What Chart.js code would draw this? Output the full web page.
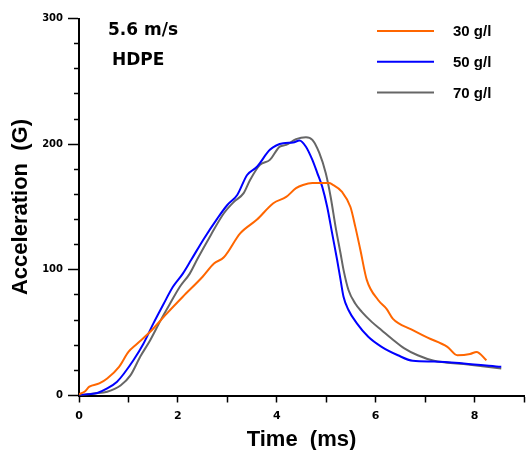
<!DOCTYPE html>
<html>
<head>
<meta charset="utf-8">
<script src="https://cdn.jsdelivr.net/npm/chart.js@4"></script>
<style>
  body { margin: 0; background: #fff; }
</style>
</head>
<body>
<canvas id="myChart" width="531" height="450"></canvas>
<script>
// Series labels and colours
const seriesLabels = ['30 g/l', '50 g/l', '70 g/l'];
const seriesColors = ['#ff6600', '#0000ff', '#666666'];

// 30 g/l curve (time in ms, acceleration in G)
const time30 = [0, 0.11, 0.21, 0.41, 0.57, 0.81, 1.0, 1.17, 1.44, 1.77, 2.1, 2.5, 2.73, 2.93, 3.26, 3.6, 3.93, 4.19, 4.39, 4.53, 4.72, 5.06, 5.12, 5.32, 5.49, 5.59, 5.69, 5.82, 6.05, 6.22, 6.35, 6.72, 7.05, 7.45, 7.65, 7.91, 8.04, 8.24];
const accel30 = [1, 3, 7, 9.6, 13.5, 22.8, 34.7, 41, 50.7, 65, 78.6, 94.5, 105, 110, 129, 140, 153, 158, 165, 167.5, 169, 169, 168, 162, 150, 134, 116, 92, 76, 69, 61, 52.6, 46, 38.7, 32, 33, 34.7, 28];

// 50 g/l curve
const time50 = [0, 0.18, 0.37, 0.57, 0.77, 0.91, 1.1, 1.3, 1.5, 1.7, 1.9, 2.1, 2.27, 2.53, 2.8, 3.0, 3.2, 3.4, 3.6, 3.86, 4.13, 4.33, 4.46, 4.59, 4.72, 4.82, 4.92, 5.02, 5.12, 5.22, 5.29, 5.35, 5.45, 5.62, 5.85, 6.12, 6.45, 6.75, 7.18, 7.78, 8.54];
const accel50 = [0, 1, 2, 5.6, 11, 17.5, 28, 41, 57, 72, 86.5, 97, 108, 125, 141, 151.6, 159.6, 175.5, 182, 195.5, 200.8, 201.3, 203, 198, 187.5, 177, 166, 150, 129, 108, 92, 78.6, 68, 57.4, 46.7, 38.7, 32, 27.6, 27, 25.5, 22.8];

// 70 g/l curve
const time70 = [0, 0.31, 0.57, 0.84, 1.04, 1.24, 1.44, 1.64, 1.84, 2.04, 2.24, 2.4, 2.67, 2.93, 3.13, 3.33, 3.46, 3.66, 3.86, 4.06, 4.19, 4.39, 4.59, 4.72, 4.86, 4.99, 5.09, 5.19, 5.29, 5.35, 5.45, 5.59, 5.72, 5.92, 6.12, 6.32, 6.58, 6.85, 7.18, 7.78, 8.54];
const accel70 = [0, 1.6, 3, 8, 16, 31, 44, 59, 73, 86.5, 97, 109, 128, 145, 154, 161, 171.5, 183.5, 187.5, 198, 199.4, 204, 205.6, 203.4, 193, 177, 158, 134, 113, 100, 84, 73, 66.6, 58.6, 52, 45.4, 37.5, 32, 27.6, 25, 21.5];

// Axis ticks
const xLabelTicks = [0, 2, 4, 6, 8];
const yLabelTicks = [0, 100, 200, 300];

// Text on the plot
const speedText = '5.6 m/s';
const materialText = 'HDPE';

function toPoints(xs, ys) {
  return xs.map((x, i) => ({ x: x, y: ys[i] }));
}

const allTimes = [time30, time50, time70];
const allAccels = [accel30, accel50, accel70];

const datasets = seriesLabels.map((label, i) => ({
  label: label,
  data: toPoints(allTimes[i], allAccels[i]),
  borderColor: seriesColors[i],
  borderWidth: 2,
  pointRadius: 0,
  fill: false,
  cubicInterpolationMode: 'monotone'
}));

// draws the two notes and the legend inside the plot
const notesPlugin = {
  id: 'notes',
  afterDraw(chart) {
    const c = chart.ctx;
    c.save();
    c.fillStyle = '#000';
    c.textBaseline = 'alphabetic';
    c.font = 'bold 17px "DejaVu Sans"';
    c.fillText(speedText, 108, 35);
    c.fillText(materialText, 112, 65);

    c.font = 'bold 15px "Liberation Sans", Arial';
    seriesLabels.forEach((label, i) => {
      const y = 31 + i * 30.8;
      c.strokeStyle = seriesColors[i];
      c.lineWidth = 2;
      c.beginPath();
      c.moveTo(377, y);
      c.lineTo(434, y);
      c.stroke();
      c.fillText(label, 453, y + 5.2);
    });
    c.restore();
  }
};

const titleFont = { family: '"Liberation Sans", Arial', weight: 'bold', size: 22 };

const myChart = document.getElementById('myChart');

const accelChart = new Chart(myChart, {
  type: 'line',
  data: { datasets: datasets },
  options: {
    responsive: false,
    animation: false,
    layout: { padding: { top: 18.5, right: 0, bottom: 0, left: 0 } },
    plugins: {
      legend: { display: false },
      tooltip: { enabled: false }
    },
    scales: {
      x: {
        type: 'linear',
        min: 0,
        max: 9,
        border: { color: '#000', width: 2 },
        grid: { drawOnChartArea: false, drawTicks: true, tickLength: 7, tickColor: '#000', tickWidth: 1.5 },
        ticks: {
          stepSize: 1,
          autoSkip: false,
          maxRotation: 0,
          color: '#000',
          font: { family: 'DejaVu Sans', weight: 'bold', size: 11 },
          padding: 7,
          callback: v => xLabelTicks.includes(v) ? String(v) : ''
        },
        title: {
          display: true,
          text: 'Time  (ms)',
          color: '#000',
          font: { ...titleFont, lineHeight: 0.9 },
          padding: 0
        },
        afterFit: s => { s.height = 450 - 395.5; }
      },
      y: {
        min: 0,
        max: 300,
        border: { color: '#000', width: 2 },
        grid: {
          drawOnChartArea: false,
          drawTicks: true,
          tickLength: 11,
          tickColor: '#000',
          tickWidth: 1.5,
          tickBorderDash: ctx => yLabelTicks.includes(ctx.tick.value) ? [] : [4, 100],
          tickBorderDashOffset: ctx => yLabelTicks.includes(ctx.tick.value) ? 0 : 98
        },
        ticks: {
          stepSize: 20,
          autoSkip: false,
          color: '#000',
          font: { family: 'DejaVu Sans', weight: 'bold', size: 10 },
          padding: 5,
          callback: v => yLabelTicks.includes(v) ? String(v) : ''
        },
        title: {
          display: true,
          text: 'Acceleration  (G)',
          color: '#000',
          font: { ...titleFont, lineHeight: 1.2 },
          padding: { top: 8, bottom: 0 }
        },
        afterFit: s => { s.width = 79; }
      }
    }
  },
  plugins: [notesPlugin]
});
</script>
</body>
</html>
